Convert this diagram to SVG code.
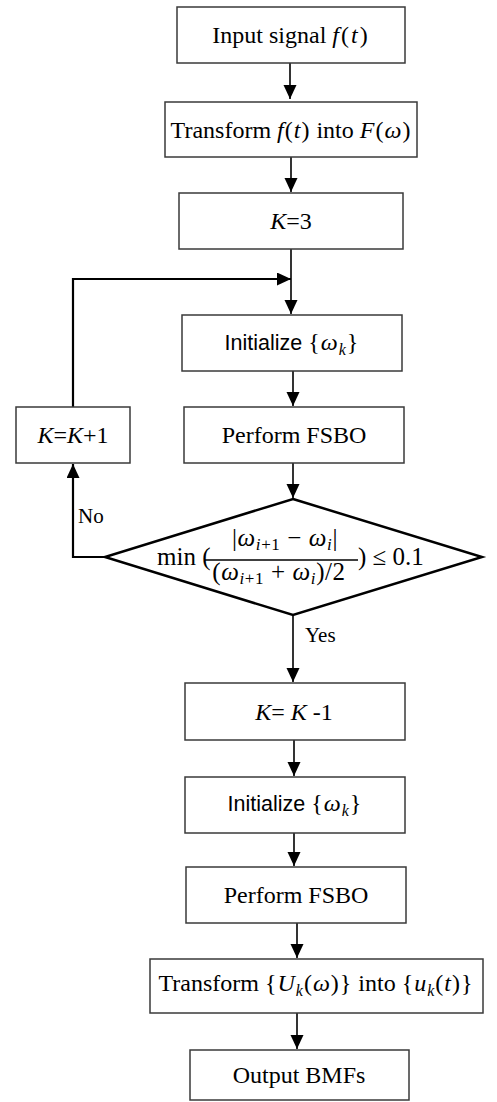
<svg xmlns="http://www.w3.org/2000/svg" width="497" height="1102" viewBox="0 0 497 1102">
<style>
.box{fill:#fff;stroke:#3a3a3a;stroke-width:1.5}
.dia{fill:#fff;stroke:#000;stroke-width:2.5}
.ln{fill:none;stroke:#000;stroke-width:1.6}
.fb{fill:none;stroke:#000;stroke-width:2.2}
.t{font-family:"Liberation Serif","Times New Roman",serif;font-size:24px;fill:#000;text-anchor:middle}
.s{font-family:"Liberation Sans",Arial,sans-serif;font-size:21.5px;fill:#000;text-anchor:middle}
.i{font-style:italic}
.mx{letter-spacing:2px}
.sub{font-size:16px;font-style:italic}
.lb{font-family:"Liberation Serif","Times New Roman",serif;font-size:21px;fill:#000}
.m{font-family:"Liberation Serif","Times New Roman",serif;font-size:25px;fill:#000}
.fr{font-family:"Liberation Serif","Times New Roman",serif;font-size:25px;fill:#000;text-anchor:middle;letter-spacing:0.6px}
.fs{font-size:17px}
</style>
<defs>
<marker id="ah" markerUnits="userSpaceOnUse" markerWidth="14" markerHeight="14" refX="14" refY="6.5" orient="auto">
<path d="M0,0 L14,6.5 L0,13 z" fill="#000"/>
</marker>
</defs>
<rect width="497" height="1102" fill="#fff"/>
<g id="connectors">
<line class="ln" x1="290" y1="63" x2="290" y2="99" marker-end="url(#ah)"/>
<line class="ln" x1="291" y1="157" x2="291" y2="192" marker-end="url(#ah)"/>
<line class="ln" x1="291" y1="249" x2="291" y2="314" marker-end="url(#ah)"/>
<polyline class="fb" points="73,407 73,279 291,279" marker-end="url(#ah)"/>
<line class="ln" x1="293" y1="371" x2="293" y2="406" marker-end="url(#ah)"/>
<line class="ln" x1="293" y1="463" x2="293" y2="498" marker-end="url(#ah)"/>
<polyline class="fb" points="105,557 73,557 73,464" marker-end="url(#ah)"/>
<line class="ln" x1="293" y1="615" x2="293" y2="682" marker-end="url(#ah)"/>
<line class="ln" x1="294" y1="740" x2="294" y2="776" marker-end="url(#ah)"/>
<line class="ln" x1="294" y1="833" x2="294" y2="866" marker-end="url(#ah)"/>
<line class="ln" x1="297" y1="923" x2="297" y2="958" marker-end="url(#ah)"/>
<line class="ln" x1="297" y1="1013" x2="297" y2="1049" marker-end="url(#ah)"/>
<text class="lb" x="78" y="523">No</text>
<text class="lb" x="305" y="642">Yes</text>
</g>
<g id="input">
<rect class="box" x="177" y="7" width="228" height="56"/>
<text class="t" x="291" y="43">Input signal <tspan class="mx"><tspan class="i">f</tspan>(<tspan class="i">t</tspan>)</tspan></text>
</g>
<g id="transform1">
<rect class="box" x="165" y="102" width="252" height="55"/>
<text class="t" x="291" y="138">Transform <tspan letter-spacing="1px"><tspan class="i">f</tspan>(<tspan class="i">t</tspan>)</tspan> into <tspan letter-spacing="1px"><tspan class="i">F</tspan>(<tspan class="i">ω</tspan>)</tspan></text>
</g>
<g id="k3">
<rect class="box" x="179" y="193" width="224" height="56"/>
<text class="t" x="291" y="229"><tspan class="i">K</tspan>=3</text>
</g>
<g id="init1">
<rect class="box" x="182" y="315" width="220" height="56"/>
<text class="s" x="292" y="350">Initialize <tspan font-family="Liberation Serif, serif" font-size="24px" letter-spacing="1px">{<tspan class="i">ω</tspan><tspan class="sub" dy="5">k</tspan><tspan dy="-5">}</tspan></tspan></text>
</g>
<g id="perform1">
<rect class="box" x="184" y="407" width="220" height="56"/>
<text class="t" x="294" y="443">Perform FSBO</text>
</g>
<g id="kplus">
<rect class="box" x="16" y="407" width="114" height="56"/>
<text class="t" x="73" y="443"><tspan class="i">K</tspan>=<tspan class="i">K</tspan>+1</text>
</g>
<g id="decision">
<polygon class="dia" points="293,499 482,557 293,615 105,557"/>
<text class="m" x="157" y="565">min (</text>
<text class="fr" x="285" y="546">|<tspan class="i">ω</tspan><tspan class="fs" dy="4"><tspan class="i">i</tspan>+1</tspan><tspan dy="-4"> − </tspan><tspan class="i">ω</tspan><tspan class="fs i" dy="4">i</tspan><tspan dy="-4">|</tspan></text>
<line x1="204" y1="560" x2="358" y2="560" stroke="#000" stroke-width="1.4"/>
<text class="fr" x="279" y="580">(<tspan class="i">ω</tspan><tspan class="fs" dy="4"><tspan class="i">i</tspan>+1</tspan><tspan dy="-4"> + </tspan><tspan class="i">ω</tspan><tspan class="fs i" dy="4">i</tspan><tspan dy="-4">)/2</tspan></text>
<text class="m" x="358" y="565">) ≤ 0.1</text>
</g>
<g id="kminus">
<rect class="box" x="185" y="683" width="220" height="57"/>
<text class="t" x="294" y="720"><tspan class="i">K</tspan>= <tspan class="i">K</tspan> -1</text>
</g>
<g id="init2">
<rect class="box" x="185" y="777" width="220" height="56"/>
<text class="s" x="295" y="811">Initialize <tspan font-family="Liberation Serif, serif" font-size="24px" letter-spacing="1px">{<tspan class="i">ω</tspan><tspan class="sub" dy="5">k</tspan><tspan dy="-5">}</tspan></tspan></text>
</g>
<g id="perform2">
<rect class="box" x="186" y="867" width="220" height="56"/>
<text class="t" x="296" y="903">Perform FSBO</text>
</g>
<g id="transform2">
<rect class="box" x="150" y="959" width="333" height="54"/>
<text class="t" x="316" y="991">Transform <tspan letter-spacing="1px">{<tspan class="i">U</tspan><tspan class="sub" dy="5">k</tspan><tspan dy="-5">(</tspan><tspan class="i">ω</tspan>)}</tspan> into <tspan letter-spacing="1px">{<tspan class="i">u</tspan><tspan class="sub" dy="5">k</tspan><tspan dy="-5">(</tspan><tspan class="i">t</tspan>)}</tspan></text>
</g>
<g id="output">
<rect class="box" x="190" y="1050" width="219" height="50"/>
<text class="t" x="299" y="1083" font-size="25px">Output BMFs</text>
</g>
</svg>
